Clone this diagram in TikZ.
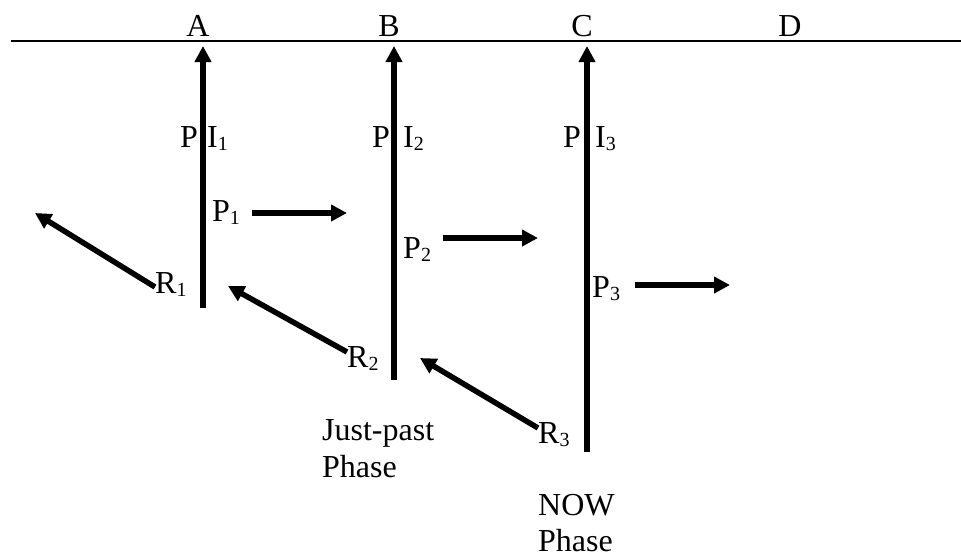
\documentclass[tikz,border=0pt]{standalone}
\usepackage{fontspec}
\setmainfont{Liberation Serif}
\usetikzlibrary{arrows.meta}
\newcommand\sbs[1]{\raisebox{-3pt}{\fontsize{20}{20}\selectfont #1}}
\tikzset{
  lbl/.style={inner sep=0pt, anchor=base west, font=\fontsize{32}{37}\selectfont},
  hdr/.style={inner sep=0pt, anchor=base, font=\fontsize{32}{37}\selectfont},
  arr/.style={line width=5.5pt, -{Triangle[length=16pt,width=16pt]}}
}
\begin{document}
\begin{tikzpicture}[x=1pt,y=-1pt]
\useasboundingbox (0,0) rectangle (961,555);
% top line
\coordinate (L0) at (11,41);
\coordinate (L1) at (961,41);
\draw[line width=1.4pt] (L0) -- (L1);
\node[hdr] (A) at (198,36) {A};
\node[hdr] (B) at (389,36) {B};
\node[hdr] (C) at (582,36) {C};
\node[hdr] (D) at (790,36) {D};
% vertical arrows
\coordinate (a0) at (203,308); \coordinate (a1) at (203,46);
\coordinate (b0) at (394,380); \coordinate (b1) at (394,46);
\coordinate (c0) at (587,452); \coordinate (c1) at (587,46);
\draw[arr] (a0) -- (a1);
\draw[arr] (b0) -- (b1);
\draw[arr] (c0) -- (c1);
% P I labels
\node[lbl] (pA) at (180,147) {P};
\node[lbl] (iA) at (207,147) {I\sbs{1}};
\node[lbl] (pB) at (372,147) {P};
\node[lbl] (iB) at (403,147) {I\sbs{2}};
\node[lbl] (pC) at (563,147) {P};
\node[lbl] (iC) at (595,147) {I\sbs{3}};
% P labels and arrows
\node[lbl] (P1) at (212,221) {P\sbs{1}};
\node[lbl] (P2) at (403,258) {P\sbs{2}};
\node[lbl] (P3) at (592,297) {P\sbs{3}};
\coordinate (p1s) at (252,213); \coordinate (p1e) at (347,213);
\coordinate (p2s) at (443,238); \coordinate (p2e) at (538,238);
\coordinate (p3s) at (635,285); \coordinate (p3e) at (730,285);
\draw[arr] (p1s) -- (p1e);
\draw[arr] (p2s) -- (p2e);
\draw[arr] (p3s) -- (p3e);
% R labels and arrows
\node[lbl] (R1) at (155,293) {R\sbs{1}};
\node[lbl] (R2) at (347,367) {R\sbs{2}};
\node[lbl] (R3) at (538,443) {R\sbs{3}};
\coordinate (r1s) at (155,287); \coordinate (r1e) at (35,213);
\coordinate (r2s) at (347,352); \coordinate (r2e) at (228,286);
\coordinate (r3s) at (538,428); \coordinate (r3e) at (420,358);
\draw[arr] (r1s) -- (r1e);
\draw[arr] (r2s) -- (r2e);
\draw[arr] (r3s) -- (r3e);
% phase labels
\node[lbl] (jp1) at (322,440) {Just-past};
\node[lbl] (jp2) at (322,477) {Phase};
\node[lbl] (nw1) at (538,515) {NOW};
\node[lbl] (nw2) at (538,551) {Phase};
\end{tikzpicture}
\end{document}
